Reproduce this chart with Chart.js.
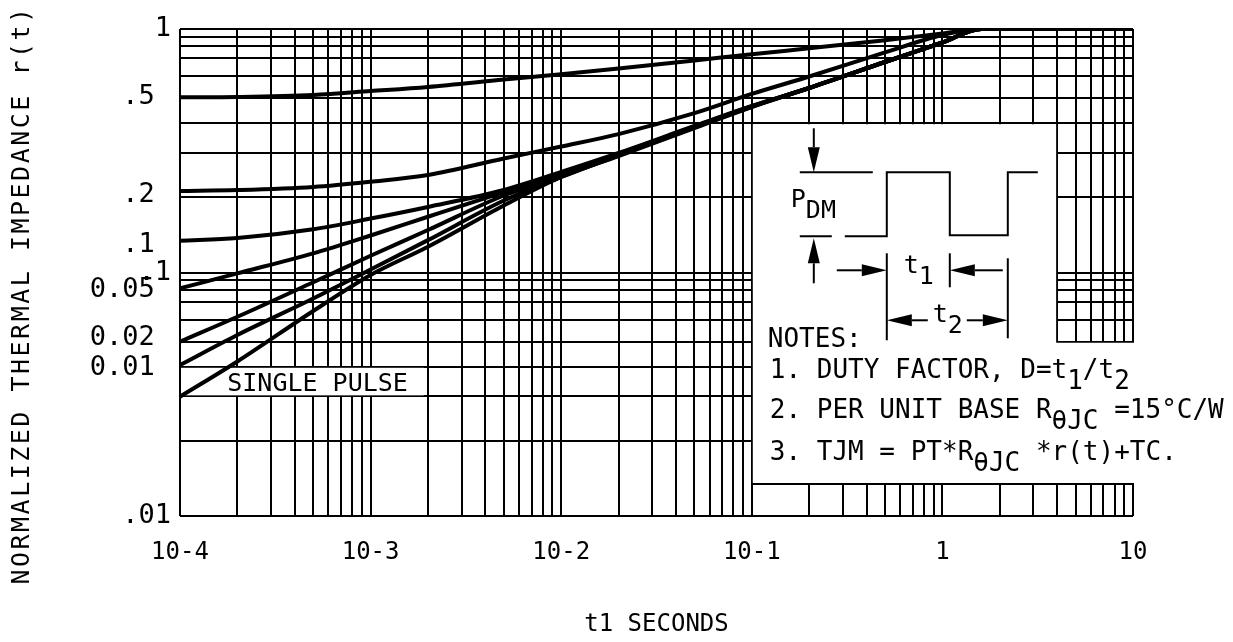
<!DOCTYPE html>
<html>
<head>
<meta charset="utf-8">
<script src="https://cdn.jsdelivr.net/npm/chart.js@4.4.1/dist/chart.umd.min.js"></script>
<style>
body { margin: 0; background: #fff; }
</style>
</head>
<body>
<canvas id="chart" width="1233" height="642"></canvas>
<script>
const times = [1e-4, 2e-4, 5e-4, 1e-3, 2e-3, 5e-3, 1e-2, 2e-2, 5e-2, 0.1, 0.2, 0.5, 1, 1.6, 10];
// normalized thermal impedance r(t) per duty factor
const d05 = [0.524, 0.526, 0.536, 0.556, 0.578, 0.620, 0.652, 0.688, 0.742, 0.788, 0.833, 0.899, 0.959, 1, 1];
const d02 = [0.216, 0.218, 0.2245, 0.236, 0.2515, 0.294, 0.329, 0.370, 0.451, 0.541, 0.638, 0.801, 0.945, 1, 1];
const d01 = [0.135, 0.1386, 0.1506, 0.1665, 0.1858, 0.2181, 0.2586, 0.3096, 0.3996, 0.4829, 0.5725, 0.732, 0.88, 1, 1];
const d005 = [0.0861, 0.0992, 0.1199, 0.1419, 0.1694, 0.2137, 0.2538, 0.3067, 0.398, 0.4806, 0.5725, 0.732, 0.88, 1, 1];
const d002 = [0.052, 0.0658, 0.0912, 0.1171, 0.1494, 0.2071, 0.249, 0.3038, 0.396, 0.4806, 0.5725, 0.732, 0.88, 1, 1];
const d001 = [0.0417, 0.0554, 0.0782, 0.1028, 0.1358, 0.1975, 0.2468, 0.3024, 0.394, 0.4806, 0.5725, 0.732, 0.88, 1, 1];
const single = [0.0309, 0.0431, 0.0695, 0.0977, 0.1276, 0.1884, 0.2468, 0.3009, 0.392, 0.4783, 0.5725, 0.732, 0.88, 1, 1];

// axis ticks / labels
const xTickValues = [1e-4, 1e-3, 1e-2, 1e-1, 1, 10];
const xTickLabels = ['10-4', '10-3', '10-2', '10-1', '1', '10'];
const yGrid = [1, 0.93, 0.85, 0.76, 0.64, 0.52, 0.41, 0.31, 0.204, 0.1, 0.093, 0.085, 0.076, 0.064, 0.052, 0.041, 0.031, 0.0204, 0.01];
const yLabelValues = [1, 0.527, 0.208, 0.1297, 0.1, 0.0847, 0.0538, 0.0405, 0.01];
const yLabelTexts = ['1', '.5 ', '.2 ', '.1 ', '.1', '0.05 ', '0.02 ', '0.01 ', '.01'];

const yTitle = 'NORMALIZED THERMAL IMPEDANCE r(t)';
const xTitle = 't1 SECONDS';
const notes = [
    [['NOTES:', 0]],
    [['1. DUTY FACTOR, D=t', 0], ['1', 1], ['/t', 0], ['2', 1]],
    [['2. PER UNIT BASE R', 0], ['\u03B8JC', 1], [' =15\u00B0C/W', 0]],
    [['3. TJM = PT*R', 0], ['\u03B8JC', 1], [' *r(t)+TC.', 0]]
];

Chart.defaults.font.family = '"DejaVu Sans Mono", monospace';
Chart.defaults.color = '#000';

function pts(arr) {
    return times.map((t, i) => ({ x: t, y: arr[i] }));
}

function xGridTicks() {
    let out = [];
    for (let e = -4; e <= 0; e++) {
        for (let m = 1; m <= 9; m++) out.push({ value: m * Math.pow(10, e) });
    }
    out.push({ value: 10 });
    return out;
}

function line(ctx, x1, y1, x2, y2) {
    ctx.beginPath();
    ctx.moveTo(x1, y1);
    ctx.lineTo(x2, y2);
    ctx.stroke();
}

// arrow with a filled head, tip at (x2, y2)
function arrow(ctx, x1, y1, x2, y2) {
    let len = Math.hypot(x2 - x1, y2 - y1);
    let ux = (x2 - x1) / len, uy = (y2 - y1) / len;
    let hx = x2 - ux * 25, hy = y2 - uy * 25;
    line(ctx, x1, y1, hx, hy);
    ctx.beginPath();
    ctx.moveTo(x2, y2);
    ctx.lineTo(hx - uy * 6, hy + ux * 6);
    ctx.lineTo(hx + uy * 6, hy - ux * 6);
    ctx.closePath();
    ctx.fill();
}

function rich(ctx, parts, x, y) {
    parts.forEach(p => {
        ctx.fillText(p[0], x, p[1] ? y + 11 : y);
        x += ctx.measureText(p[0]).width;
    });
}

const notesPlugin = {
    id: 'notes',
    beforeDatasetsDraw(chart) {
        const { ctx, chartArea: a, scales: { x, y } } = chart;
        ctx.save();
        ctx.fillStyle = '#fff';
        // white box behind SINGLE PULSE
        let sx0 = x.getPixelForValue(1e-4) + 1, sx1 = x.getPixelForValue(1.9e-3);
        let sy0 = y.getPixelForValue(0.041) + 1, sy1 = y.getPixelForValue(0.031) - 1;
        ctx.fillRect(sx0, sy0, sx1 - sx0, sy1 - sy0);

        // notes box
        let L = x.getPixelForValue(0.1), R = x.getPixelForValue(10), N = x.getPixelForValue(4);
        let T = y.getPixelForValue(0.41), M = y.getPixelForValue(0.052), B = a.bottom - 32;
        ctx.beginPath();
        ctx.moveTo(L + 1, T + 1);
        ctx.lineTo(N - 1, T + 1);
        ctx.lineTo(N - 1, M + 1);
        ctx.lineTo(R + 2, M + 1);
        ctx.lineTo(R + 2, B);
        ctx.lineTo(L + 1, B);
        ctx.closePath();
        ctx.fill();

        ctx.strokeStyle = '#000';
        ctx.fillStyle = '#000';
        ctx.lineWidth = 2;
        line(ctx, L, B, R + 1, B);

        ctx.font = '25px "DejaVu Sans Mono"';
        ctx.textBaseline = 'alphabetic';
        ctx.fillText('SINGLE PULSE', x.getPixelForValue(1.77e-4), y.getPixelForValue(0.031) - 5);

        // pulse diagram
        ctx.save();
        ctx.translate(L, T);
        arrow(ctx, 62, 5, 62, 49);
        line(ctx, 48, 49, 121, 49);
        line(ctx, 48, 113, 80, 113);
        arrow(ctx, 62, 160, 62, 115);
        ctx.beginPath();
        ctx.moveTo(93, 113);
        ctx.lineTo(135, 113);
        ctx.lineTo(135, 49);
        ctx.lineTo(198, 49);
        ctx.lineTo(198, 112);
        ctx.lineTo(256, 112);
        ctx.lineTo(256, 49);
        ctx.lineTo(286, 49);
        ctx.stroke();
        rich(ctx, [['P', 0], ['DM', 1]], 39, 84);

        arrow(ctx, 85, 147, 135, 147);
        line(ctx, 135, 130, 135, 217);
        arrow(ctx, 251, 147, 198, 147);
        line(ctx, 198, 130, 198, 164);
        line(ctx, 256, 135, 256, 215);
        rich(ctx, [['t', 0], ['1', 1]], 152, 150);

        arrow(ctx, 176, 197, 135, 197);
        rich(ctx, [['t', 0], ['2', 1]], 181, 199);
        arrow(ctx, 215, 197, 256, 197);

        ctx.font = '26px "DejaVu Sans Mono"';
        rich(ctx, notes[0], 16, 224);
        rich(ctx, notes[1], 18, 255);
        rich(ctx, notes[2], 18, 295);
        rich(ctx, notes[3], 18, 337);
        ctx.restore();
        ctx.restore();
    },
    afterDraw(chart) {
        const ctx = chart.ctx;
        ctx.save();
        ctx.translate(22, 295);
        ctx.rotate(-Math.PI / 2);
        ctx.font = '25px "DejaVu Sans Mono"';
        ctx.letterSpacing = '2.5px';
        ctx.fillStyle = '#000';
        ctx.textAlign = 'center';
        ctx.textBaseline = 'middle';
        ctx.fillText(yTitle, 0, 0);
        ctx.restore();
    }
};

function ds(label, arr) {
    return {
        label: label,
        data: pts(arr),
        borderColor: '#000',
        borderWidth: 4,
        pointRadius: 0,
        fill: false,
        cubicInterpolationMode: 'monotone'
    };
}

new Chart(document.getElementById('chart').getContext('2d'), {
    type: 'line',
    data: {
        datasets: [
            ds('0.5', d05),
            ds('0.2', d02),
            ds('0.1', d01),
            ds('0.05', d005),
            ds('0.02', d002),
            ds('0.01', d001),
            ds('SINGLE PULSE', single)
        ]
    },
    options: {
        responsive: false,
        animation: false,
        devicePixelRatio: 1,
        layout: { padding: { top: 29, right: 100, left: 0, bottom: 0 } },
        plugins: { legend: { display: false }, tooltip: { enabled: false } },
        scales: {
            x: {
                type: 'logarithmic',
                min: 1e-4,
                max: 10,
                afterBuildTicks: axis => { axis.ticks = xGridTicks(); },
                afterFit: axis => { axis.height = 126; },
                grid: { color: '#000', lineWidth: 2, drawTicks: false },
                border: { display: false },
                ticks: {
                    autoSkip: false,
                    maxRotation: 0,
                    padding: 22,
                    font: { size: 24 },
                    callback: v => {
                        let i = xTickValues.findIndex(t => Math.abs(Math.log10(t) - Math.log10(v)) < 1e-6);
                        return i >= 0 ? xTickLabels[i] : '';
                    }
                },
                title: { display: true, text: xTitle, font: { size: 24 }, padding: { top: 0, bottom: 3 } }
            },
            y: {
                type: 'logarithmic',
                position: 'left',
                min: 0.01,
                max: 1,
                afterBuildTicks: axis => { axis.ticks = yGrid.map(v => ({ value: v })); },
                afterFit: axis => { axis.width = 0; },
                grid: { color: '#000', lineWidth: 2, drawTicks: false },
                border: { display: false },
                ticks: { display: false }
            },
            yLab: {
                type: 'logarithmic',
                position: 'left',
                min: 0.01,
                max: 1,
                afterBuildTicks: axis => { axis.ticks = yLabelValues.map(v => ({ value: v })); },
                afterFit: axis => { axis.width = 180; },
                grid: { display: false, drawTicks: false },
                border: { display: false },
                ticks: {
                    autoSkip: false,
                    padding: 9,
                    font: { size: 27 },
                    callback: v => {
                        let i = yLabelValues.findIndex(t => Math.abs(t - v) < 1e-9);
                        return i >= 0 ? yLabelTexts[i] : '';
                    }
                }
            }
        }
    },
    plugins: [notesPlugin]
});
</script>
</body>
</html>
